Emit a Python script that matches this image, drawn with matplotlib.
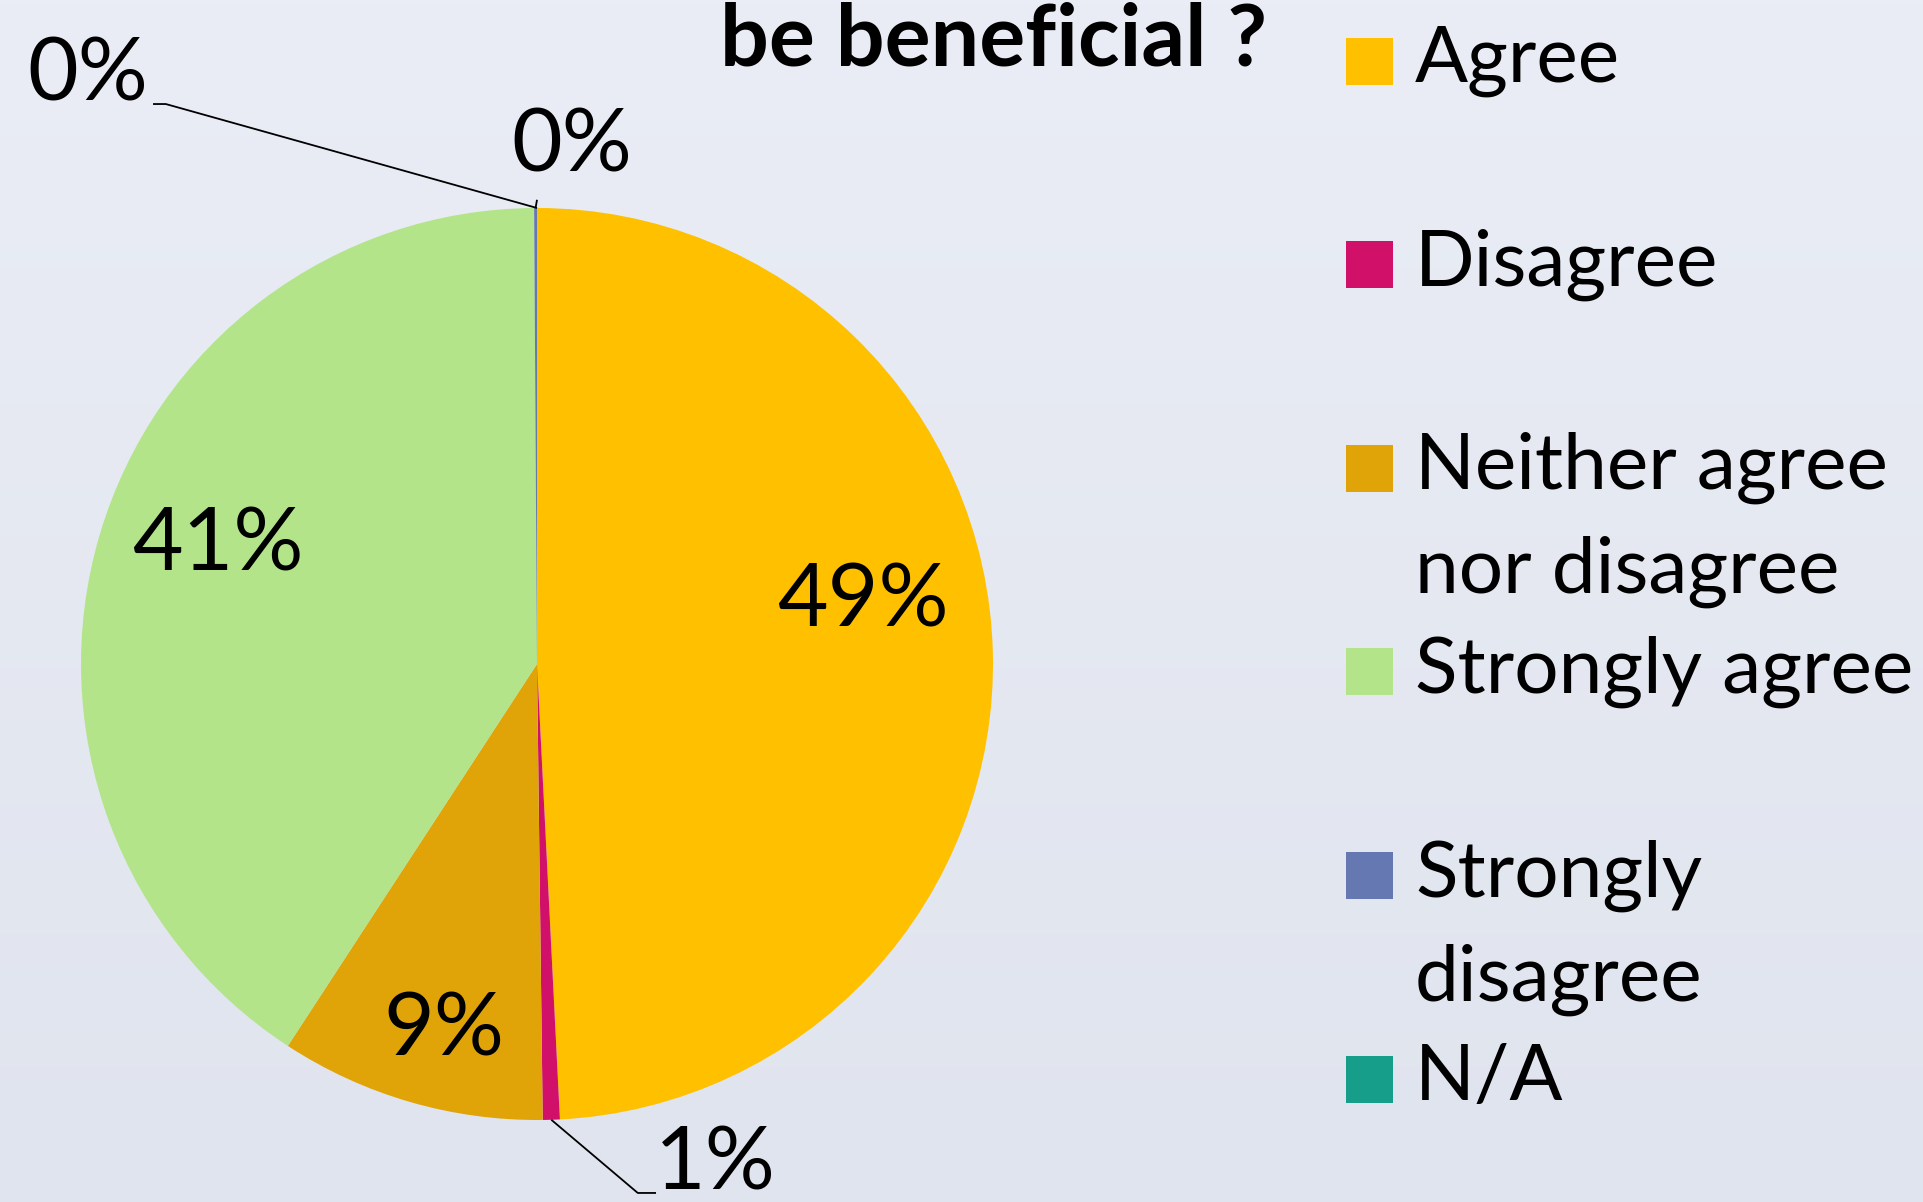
import numpy as np
import matplotlib.pyplot as plt
from matplotlib.colors import LinearSegmentedColormap
from matplotlib.patches import Rectangle

categories = ["Agree", "Disagree", "Neither agree nor disagree",
              "Strongly agree", "Strongly disagree", "N/A"]
legend_labels = ["Agree", "Disagree", "Neither agree\nnor disagree",
                 "Strongly agree", "Strongly\ndisagree", "N/A"]
shares = [49.2, 0.6, 9.4, 40.7, 0.1, 0.0]
colors = ["#FFC000", "#D1106A", "#E1A408", "#B3E48A", "#6578B1", "#169E8B"]
title = "be beneficial ?"

W, H = 1924, 1202
plt.rcParams['font.family'] = ['Lato', 'DejaVu Sans']

fig = plt.figure(figsize=(W / 100, H / 100), dpi=100)

# gradient background
bg = fig.add_axes([0, 0, 1, 1])
cmap = LinearSegmentedColormap.from_list("bg", ["#EAEDF5", "#E0E4EE"])
bg.imshow(np.linspace(0, 1, 256)[:, None], aspect='auto', cmap=cmap,
          extent=[0, 1, 0, 1])
bg.axis('off')

ax = fig.add_axes([0, 0, 1, 1])
ax.patch.set_alpha(0)
cx, cy, R = 537, H - 664, 456
wedges, _ = ax.pie(shares, colors=colors, startangle=90, counterclock=False,
                   center=(cx, cy), radius=R, wedgeprops=dict(linewidth=0))
ax.set_xlim(0, W)
ax.set_ylim(0, H)
ax.set_aspect('auto')
ax.axis('off')

# label placement in radius units from pie centre
label_pos = [(0.715, 0.136), (0.390, -1.098), (-0.204, -0.805),
             (-0.700, 0.259), (0.077, 1.134), (-0.985, 1.289)]
# leader lines: (elbow, end) in radius units, None = no leader
leaders = [None, ((0.221, -1.160), (0.261, -1.160)), None, None,
           ((0.0, 1.018), (0.0, 1.018)), ((-0.814, 1.228), (-0.842, 1.228))]

for w, v, (lx, ly), ld in zip(wedges, shares, label_pos, leaders):
    ax.text(cx + lx * R, cy + ly * R, f"{round(v)}%", fontsize=63,
            ha='center', va='center', color='black')
    if ld is not None:
        mid = np.deg2rad((w.theta1 + w.theta2) / 2)
        sx, sy = cx + R * np.cos(mid), cy + R * np.sin(mid)
        (ex, ey), (fx, fy) = ld
        ax.plot([sx, cx + ex * R, cx + fx * R], [sy, cy + ey * R, cy + fy * R],
                color='black', lw=1.3, solid_capstyle='butt')

fig.text(994 / W, 1 - 65 / H, title, fontsize=62, fontweight='bold',
         ha='center', va='baseline')

# legend
sq = 47
line_gap = 104
for i, (lab, col) in enumerate(zip(legend_labels, colors)):
    yc = H - (61 + i * 203.6)
    ax.add_patch(Rectangle((1346, yc - sq / 2), sq, sq, facecolor=col,
                           edgecolor='none'))
    for j, line in enumerate(lab.split("\n")):
        ax.text(1415, yc - j * line_gap, line, fontsize=56.5, ha='left',
                va='center', color='black')

fig.savefig("out.png", dpi=100)
